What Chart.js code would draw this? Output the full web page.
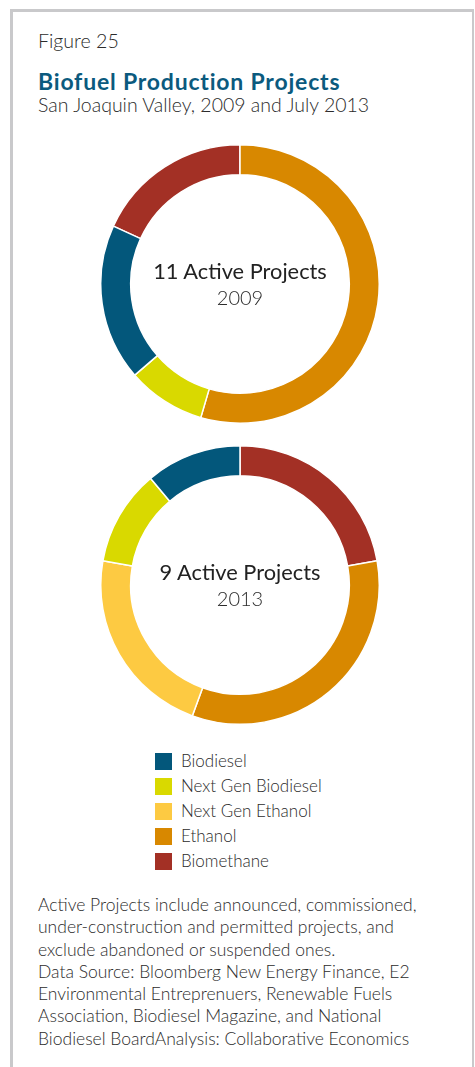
<!DOCTYPE html>
<html>
<head>
<meta charset="utf-8">
<script src="https://cdn.jsdelivr.net/npm/chart.js@4"></script>
<style>
  html, body { margin: 0; padding: 0; background: #fff; }
  body { width: 475px; height: 1067px; position: relative; overflow: hidden; font-family: Lato, "Open Sans", sans-serif; color: #2b2b2b; }
  .frame { position: absolute; left: 10px; top: 9px; width: 459px; height: 1100px; border-left: 3px solid #c9c9cb; border-top: 3px solid #c9c9cb; border-right: 2px solid #c9c9cb; }
  .t { position: absolute; white-space: nowrap; }
  .fig { left: 38px; top: 29px; font-size: 19.6px; font-weight: 300; line-height: 24px; }
  .title { left: 38px; top: 68px; font-size: 23px; font-weight: 700; color: #0b5a7e; line-height: 26px; letter-spacing: 0.8px; }
  .sub { left: 38px; top: 93px; font-size: 19.5px; font-weight: 300; line-height: 24px; }
  .ctr { left: 0; width: 480px; text-align: center; }
  .big { font-size: 21.8px; font-weight: 400; line-height: 26px; color: #222; }
  .yr { font-size: 20px; font-weight: 300; line-height: 24px; }
  canvas { position: absolute; }
  .legend { position: absolute; left: 155px; top: 753px; }
  .lrow { position: relative; height: 25px; }
  .sw { position: absolute; left: 0; top: 0; width: 17px; height: 17px; }
  .lt { position: absolute; left: 26px; top: -3px; font-size: 17px; font-weight: 300; line-height: 22px; white-space: nowrap; }
  .notes { position: absolute; left: 38px; top: 894px; font-size: 17.5px; font-weight: 300; line-height: 22.3px; white-space: nowrap; }
</style>
</head>
<body>
<div class="frame"></div>
<div class="t fig">Figure 25</div>
<div class="t title">Biofuel Production Projects</div>
<div class="t sub">San Joaquin Valley, 2009 and July 2013</div>

<canvas id="c2009" width="280" height="280" style="left:100px;top:144px;width:280px;height:280px"></canvas>
<canvas id="c2013" width="280" height="280" style="left:100px;top:445px;width:280px;height:280px"></canvas>

<div class="t ctr big" style="top:258px">11 Active Projects</div>
<div class="t ctr yr" style="top:285px">2009</div>
<div class="t ctr big" style="top:559px">9 Active Projects</div>
<div class="t ctr yr" style="top:586px">2013</div>

<div class="legend" id="legend"></div>

<div class="notes">Active Projects include announced, commissioned,<br>under-construction and permitted projects, and<br>exclude abandoned or suspended ones.<br>Data Source: Bloomberg New Energy Finance, E2<br>Environmental Entreprenuers, Renewable Fuels<br>Association, Biodiesel Magazine, and National<br>Biodiesel BoardAnalysis: Collaborative Economics</div>

<script>
const categories = ['Biodiesel', 'Next Gen Biodiesel', 'Next Gen Ethanol', 'Ethanol', 'Biomethane'];
const projects2009 = [2, 1, 0, 6, 2];
const projects2013 = [1, 1, 2, 3, 2];
const colors = ['#03577b', '#d9d900', '#fdca42', '#d88800', '#a33025'];

function makeDonut(id, values, rotation) {
  const order = categories.map((_, i) => i).reverse();
  new Chart(document.getElementById(id), {
    type: 'doughnut',
    data: {
      labels: order.map(i => categories[i]),
      datasets: [{
        data: order.map(i => values[i]),
        backgroundColor: order.map(i => colors[i]),
        borderColor: '#ffffff',
        borderWidth: 1.5,
        hoverOffset: 0
      }]
    },
    options: {
      responsive: false,
      animation: false,
      cutout: '78.5%',
      rotation: rotation,
      layout: { padding: 0 },
      plugins: { legend: { display: false }, tooltip: { enabled: false } },
      events: []
    }
  });
}

const total2009 = projects2009.reduce((a, b) => a + b, 0);
makeDonut('c2009', projects2009, -360 * projects2009[4] / total2009);
makeDonut('c2013', projects2013, 0);

const legend = document.getElementById('legend');
categories.forEach((c, i) => {
  const row = document.createElement('div');
  row.className = 'lrow';
  row.innerHTML = '<div class="sw" style="background:' + colors[i] + '"></div><div class="lt">' + c + '</div>';
  legend.appendChild(row);
});
</script>
</body>
</html>
